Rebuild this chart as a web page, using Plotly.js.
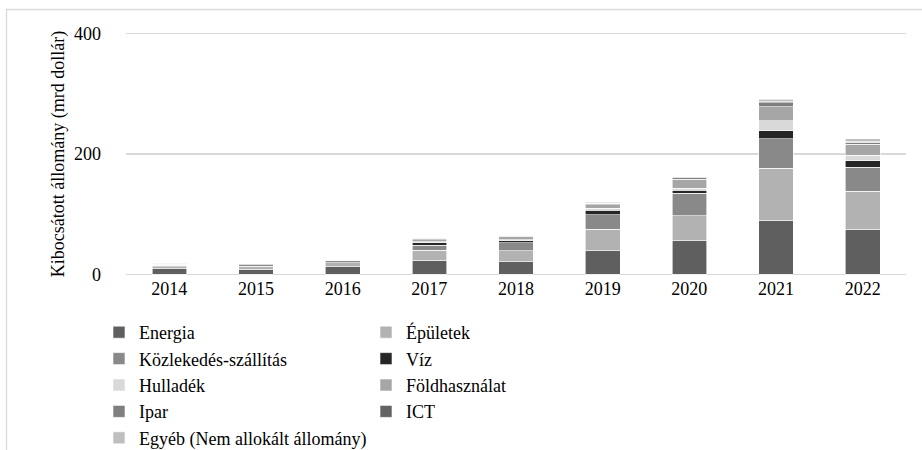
<!DOCTYPE html>
<html>
<head>
<meta charset="utf-8">
<script src="https://cdn.plot.ly/plotly-3.0.1.min.js"></script>
<style>html,body{margin:0;padding:0;background:#fff;}</style>
</head>
<body>
<div id="chart" style="width:922px;height:450px;"></div>
<script>
const years = ["2014","2015","2016","2017","2018","2019","2020","2021","2022"];
const seriesNames = ["Energia","Épületek","Közlekedés-szállítás","Víz","Hulladék","Földhasználat","Ipar","ICT","Egyéb (Nem allokált állomány)"];
const energia       = [9.4, 8.3, 12.2, 22.8, 21.0, 39.4, 56.0, 90.0, 75.0];
const epuletek      = [2.8, 5.0, 6.7, 17.2, 17.8, 35.6, 41.5, 86.0, 63.0];
const kozlekedes    = [2.8, 2.2, 3.3, 8.3, 13.9, 23.9, 37.0, 49.0, 40.0];
const viz           = [0.3, 0.3, 0.4, 3.9, 3.0, 7.2, 5.0, 14.0, 10.5];
const hulladek      = [0.2, 0.3, 0.4, 2.2, 2.0, 3.9, 3.9, 16.0, 9.4];
const foldhasznalat = [1.2, 1.5, 1.5, 3.3, 5.3, 5.6, 15.0, 24.0, 18.0];
const ipar          = [0.5, 0.6, 0.6, 0.9, 1.5, 2.2, 1.7, 6.7, 3.9];
const ict           = [0.2, 0.2, 0.2, 0.3, 0.3, 0.5, 0.5, 1.0, 0.8];
const egyeb         = [0.6, 0.6, 0.7, 0.8, 1.0, 1.2, 1.7, 4.4, 5.0];
const yTicks = [0, 200, 400];

const values = [energia, epuletek, kozlekedes, viz, hulladek, foldhasznalat, ipar, ict, egyeb];
const colors = ["#5f5f5f","#b2b2b2","#898989","#262626","#d9d9d9","#a6a6a6","#7f7f7f","#636363","#bfbfbf"];

const traces = seriesNames.map((n, i) => ({
  type: "bar",
  name: n,
  x: years,
  y: values[i],
  marker: {color: colors[i], line: {color: "#ffffff", width: 0.6}},
  hoverinfo: "x+y+name"
}));

const font = {family: "Liberation Serif, Times New Roman, serif", size: 18, color: "#000"};

const layout = {
  width: 922, height: 450,
  margin: {l: 126, r: 16, t: 32, b: 174, pad: 0},
  barmode: "stack",
  bargap: 0.6,
  paper_bgcolor: "#fff",
  plot_bgcolor: "#fff",
  font: font,
  showlegend: true,
  legend: {
    orientation: "h",
    xref: "container", yref: "container",
    x: 99 / 922, xanchor: "left",
    y: (450 - 314) / 450, yanchor: "top",
    entrywidth: 222, entrywidthmode: "pixels",
    traceorder: "normal",
    font: font,
    bgcolor: "rgba(0,0,0,0)",
    itemclick: false
  },
  xaxis: {
    type: "category",
    showgrid: false,
    showline: false,
    zeroline: false,
    ticks: "",
    tickfont: font,
    fixedrange: true
  },
  yaxis: {
    range: [-3, 403],
    tickvals: yTicks,
    ticktext: yTicks.map(String),
    showgrid: true,
    gridcolor: "#d9d9d9",
    gridwidth: 1.3,
    zeroline: false,
    showline: false,
    ticks: "",
    ticklabelstandoff: 24,
    tickfont: font,
    title: {text: "Kibocsátott állomány (mrd dollár)", font: font, standoff: 4},
    fixedrange: true
  },
  shapes: [{
    type: "rect", xref: "paper", yref: "paper",
    x0: (6.5 - 126) / 780, x1: 1.05,
    y0: -1.0, y1: 1 + (32 - 9.5) / 244,
    line: {color: "#d9d9d9", width: 1.3},
    fillcolor: "rgba(0,0,0,0)",
    layer: "below"
  }]
};

Plotly.newPlot("chart", traces, layout, {displayModeBar: false, staticPlot: true});
</script>
</body>
</html>
